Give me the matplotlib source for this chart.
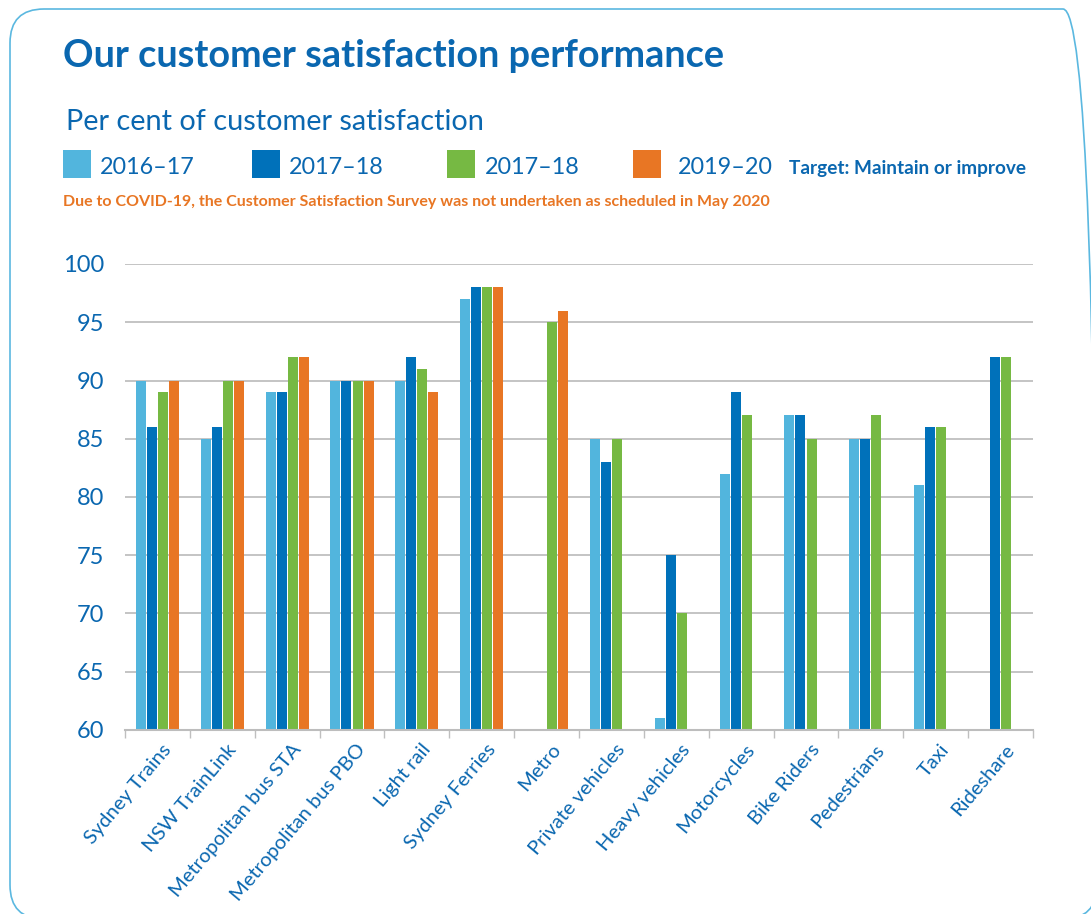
import matplotlib as mpl

mpl.use("Agg")

import matplotlib.pyplot as plt
import matplotlib.transforms as mtransforms
import numpy as np
from matplotlib.patches import FancyBboxPatch, Rectangle

IMAGE_DPI = 100.0
WIDTH = 1091
HEIGHT = 914

nan = np.nan

categories = [
    "Sydney Trains",
    "NSW TrainLink",
    "Metropolitan bus STA",
    "Metropolitan bus PBO",
    "Light rail",
    "Sydney Ferries",
    "Metro",
    "Private vehicles",
    "Heavy vehicles",
    "Motorcycles",
    "Bike Riders",
    "Pedestrians",
    "Taxi",
    "Rideshare",
]
series_labels = ["2016–17", "2017–18", "2017–18", "2019–20"]
values_2016_17 = [90, 85, 89, 90, 90, 97, nan, 85, 61, 82, 87, 85, 81, nan]
values_2017_18 = [86, 86, 89, 90, 92, 98, nan, 83, 75, 89, 87, 85, 86, 92]
values_2018_19 = [89, 90, 92, 90, 91, 98, 95, 85, 70, 87, 85, 87, 86, 92]
values_2019_20 = [90, 90, 92, 90, 89, 98, 96, nan, nan, nan, nan, nan, nan, nan]
y_ticks = [60, 65, 70, 75, 80, 85, 90, 95, 100]

SERIES_COLORS = ["#52B5DD", "#0071BA", "#76B943", "#E87624"]
TEXT_BLUE = "#0A67B0"
NOTE_ORANGE = "#E87624"
GRID_GRAY = "#BFBFBF"

plt.rcParams["font.family"] = ["Lato", "DejaVu Sans"]


def px(x, y):
    # pixel position (top-left origin) -> figure fraction
    return x / WIDTH, 1 - y / HEIGHT


fig = plt.figure(facecolor="white")
fig.set_size_inches(WIDTH / IMAGE_DPI, HEIGHT / IMAGE_DPI)

# rounded frame round the whole panel, in figure fractions (right and bottom edges off the picture)
rad_x = 34 / WIDTH
rad_y = 34 / HEIGHT
fx0, fy1 = px(10, 9)
fx1, fy0 = px(1097, 919)
frame = FancyBboxPatch(
    (fx0, fy0),
    fx1 - fx0,
    fy1 - fy0,
    boxstyle="round,pad=0,rounding_size=%f" % rad_x,
    mutation_aspect=rad_y / rad_x,
    transform=fig.transFigure,
    facecolor="none",
    edgecolor="#5BB8E0",
    linewidth=1.2,
)
fig.add_artist(frame)

# headings
fig.text(*px(63, 67), "Our customer satisfaction performance", fontsize=27.3,
         fontweight="bold", color=TEXT_BLUE, va="baseline")
fig.text(*px(66, 130), "Per cent of customer satisfaction", fontsize=20.8,
         color=TEXT_BLUE, va="baseline")

# legend drawn by hand
legend_items = [(63, 100), (252, 289), (447, 485), (633, 678)]
for (sq_x, txt_x), label, color in zip(legend_items, series_labels, SERIES_COLORS):
    x0, y0 = px(sq_x, 178)
    fig.add_artist(Rectangle((x0, y0), 28 / WIDTH, 28 / HEIGHT, transform=fig.transFigure,
                             facecolor=color, edgecolor="none"))
    fig.text(*px(txt_x, 174), label, fontsize=16.8, color=TEXT_BLUE, va="baseline")

fig.text(*px(789, 174), "Target: Maintain or improve", fontsize=13.7, fontweight="bold",
         color=TEXT_BLUE, va="baseline")
fig.text(*px(63, 206), "Due to COVID-19, the Customer Satisfaction Survey was not undertaken as scheduled in May 2020",
         fontsize=11.5, fontweight="bold", color=NOTE_ORANGE, va="baseline")

# chart
l, t = px(125, 264)
r, b = px(1033, 730)
ax = fig.add_axes([l, b, r - l, t - b])

x = np.arange(len(categories)) + 0.5
stride = 0.17
bar_width = 0.154
all_series = [values_2016_17, values_2017_18, values_2018_19, values_2019_20]
for i, (vals, color) in enumerate(zip(all_series, SERIES_COLORS)):
    ax.bar(x + (i - 1.5) * stride, vals, width=bar_width, color=color, linewidth=0)

ax.set_xlim(0, len(categories))
ax.set_ylim(60, 100)
ax.set_yticks(y_ticks)
ax.set_axisbelow(True)
ax.yaxis.grid(True, color=GRID_GRAY, linewidth=1.3)

ax.set_xticks(x)
ax.set_xticklabels(categories, rotation=50, ha="right", rotation_mode="anchor")
ax.set_xticks(np.arange(len(categories) + 1), minor=True)
ax.tick_params(axis="x", which="major", length=0, pad=8, labelsize=14.5, labelcolor=TEXT_BLUE)
ax.tick_params(axis="x", which="minor", length=6, width=1, color=GRID_GRAY)
ax.tick_params(axis="y", length=0, pad=15, labelsize=17, labelcolor=TEXT_BLUE)
for label in ax.get_xticklabels():
    label.set_transform(label.get_transform() + mtransforms.ScaledTranslation(4 / IMAGE_DPI, 0, fig.dpi_scale_trans))

for side in ["top", "right", "left"]:
    ax.spines[side].set_visible(False)
ax.spines["bottom"].set_color("#BDBDBD")
ax.spines["bottom"].set_linewidth(1.5)

fig.savefig("out.png", dpi=IMAGE_DPI, facecolor="white")
plt.close(fig)
